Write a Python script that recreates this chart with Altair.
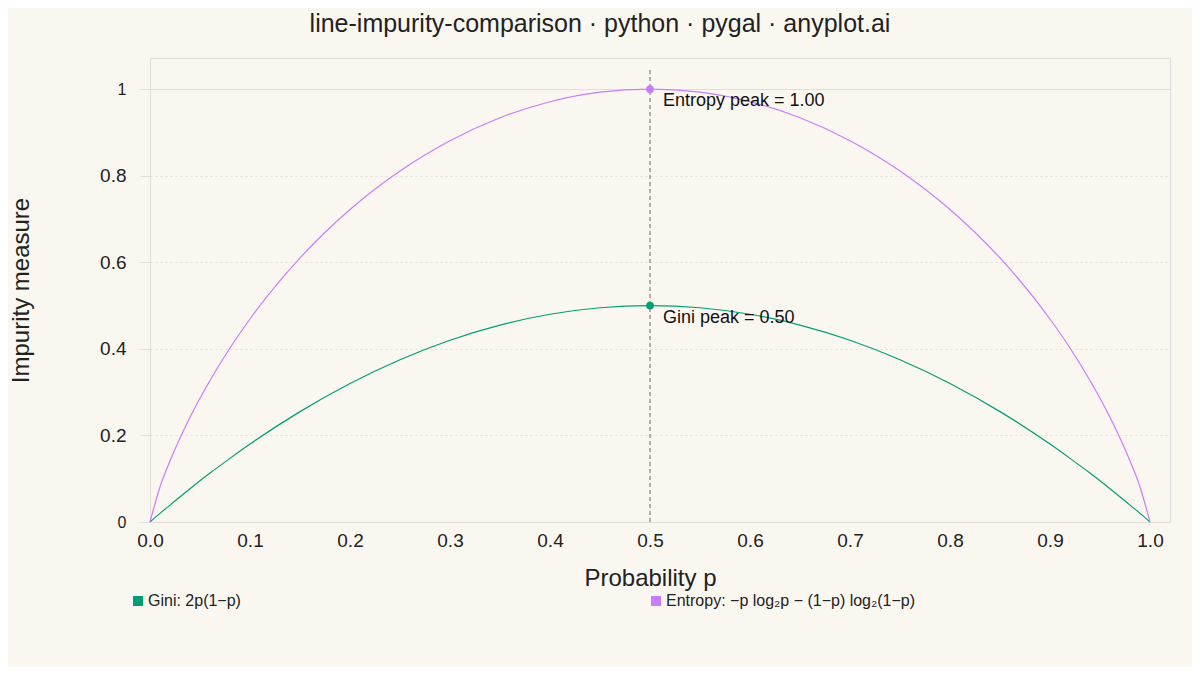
import altair as alt
import pandas as pd

# values
p_values = [0.0, 0.01, 0.02, 0.04, 0.06, 0.08, 0.1, 0.15, 0.2, 0.25, 0.3, 0.35, 0.4, 0.45, 0.5,
            0.55, 0.6, 0.65, 0.7, 0.75, 0.8, 0.85, 0.9, 0.92, 0.94, 0.96, 0.98, 0.99, 1.0]
gini_values = [0.0, 0.02, 0.039, 0.077, 0.113, 0.147, 0.18, 0.255, 0.32, 0.375, 0.42, 0.455, 0.48, 0.495, 0.5,
               0.495, 0.48, 0.455, 0.42, 0.375, 0.32, 0.255, 0.18, 0.147, 0.113, 0.077, 0.039, 0.02, 0.0]
entropy_values = [0.0, 0.081, 0.141, 0.242, 0.327, 0.402, 0.469, 0.61, 0.722, 0.811, 0.881, 0.934, 0.971, 0.993, 1.0,
                  0.993, 0.971, 0.934, 0.881, 0.811, 0.722, 0.61, 0.469, 0.402, 0.327, 0.242, 0.141, 0.081, 0.0]

series_names = ["Gini: 2p(1\u2212p)", "Entropy: \u2212p log\u2082p \u2212 (1\u2212p) log\u2082(1\u2212p)"]
series_colors = ["#009E73", "#C77DFF"]

peak_p = [0.5, 0.5]
peak_values = [0.5, 1.0]
peak_labels = ["Gini peak = 0.50", "Entropy peak = 1.00"]
rule_top = 1.05

x_ticks = [round(i * 0.1, 1) for i in range(11)]
y_ticks = [0, 0.2, 0.4, 0.6, 0.8, 1]

curves = pd.concat([
    pd.DataFrame({"p": p_values, "value": gini_values, "series": series_names[0]}),
    pd.DataFrame({"p": p_values, "value": entropy_values, "series": series_names[1]}),
])
peaks = pd.DataFrame({"p": peak_p, "value": peak_values, "label": peak_labels,
                      "series": series_names})
rule_df = pd.DataFrame({"p": [0.5], "y0": [0.0], "y1": [rule_top]})

font = "Liberation Sans"
ends = "datum.value == 0 || datum.value == 1"
x_scale = alt.Scale(domain=[0, 1.02], nice=False, zero=False)
y_scale = alt.Scale(domain=[0, 1.072], nice=False)
color_scale = alt.Scale(domain=series_names, range=series_colors)

lines = alt.Chart(curves).mark_line(strokeWidth=1.2, interpolate="monotone").encode(
    x=alt.X("p:Q", scale=x_scale,
            axis=alt.Axis(values=x_ticks, format=".1f", title="Probability p", grid=False,
                          domain=False, ticks=False, labelFlush=False, labelFontSize=19,
                          labelPadding=9, labelColor="#222", titleFontSize=24,
                          titleFontWeight="normal", titleColor="#222", titleX=500, titleY=63,
                          titleBaseline="alphabetic")),
    y=alt.Y("value:Q", scale=y_scale,
            axis=alt.Axis(values=y_ticks, format="~g", title="Impurity measure",
                          gridColor="#e2ded6",
                          gridDash={"condition": {"test": ends, "value": []}, "value": [2, 3]},
                          domainColor="#e2ded6", tickColor="#e2ded6", tickSize=10,
                          labelFontSize={"condition": {"test": ends, "value": 16}, "value": 19},
                          labelColor="#222", labelPadding=14,
                          titleFontSize=24, titleFontWeight="normal", titleColor="#222",
                          titlePadding=66)),
    color=alt.Color("series:N", scale=color_scale,
                    legend=alt.Legend(title=None, orient="none", legendX=-20, legendY=535,
                                      direction="horizontal", columns=2, columnPadding=407,
                                      symbolType="square", symbolSize=100, symbolOpacity=1,
                                      symbolStrokeWidth=0, labelFontSize=16, labelColor="#222",
                                      labelOffset=2, labelLimit=400)),
)

rule = alt.Chart(rule_df).mark_rule(color="#666", strokeDash=[4, 3], strokeWidth=1).encode(
    x="p:Q", y="y0:Q", y2="y1:Q"
)

points = alt.Chart(peaks).mark_point(filled=True, size=60, opacity=1).encode(
    x="p:Q", y="value:Q",
    color=alt.Color("series:N", scale=color_scale, legend=None),
)

labels = alt.Chart(peaks).mark_text(align="left", baseline="middle", dx=13, dy=12,
                                    fontSize=18, color="#111", font=font).encode(
    x="p:Q", y="value:Q", text="label:N"
)

chart = alt.layer(rule, lines, points, labels).properties(
    width=1020, height=464,
    autosize=alt.AutoSizeParams(type="none"),
    padding={"left": 142, "top": 50, "right": 22, "bottom": 145},
    background="#FAF7F1",
    title=alt.TitleParams("line-impurity-comparison \u00b7 python \u00b7 pygal \u00b7 anyplot.ai",
                          fontSize=25, fontWeight="normal", color="#222", font=font,
                          anchor="middle", dx=-60, offset=21),
).configure_view(stroke=None).configure(font=font)

chart.save("out.html", embed_options={"renderer": "svg", "actions": False})
